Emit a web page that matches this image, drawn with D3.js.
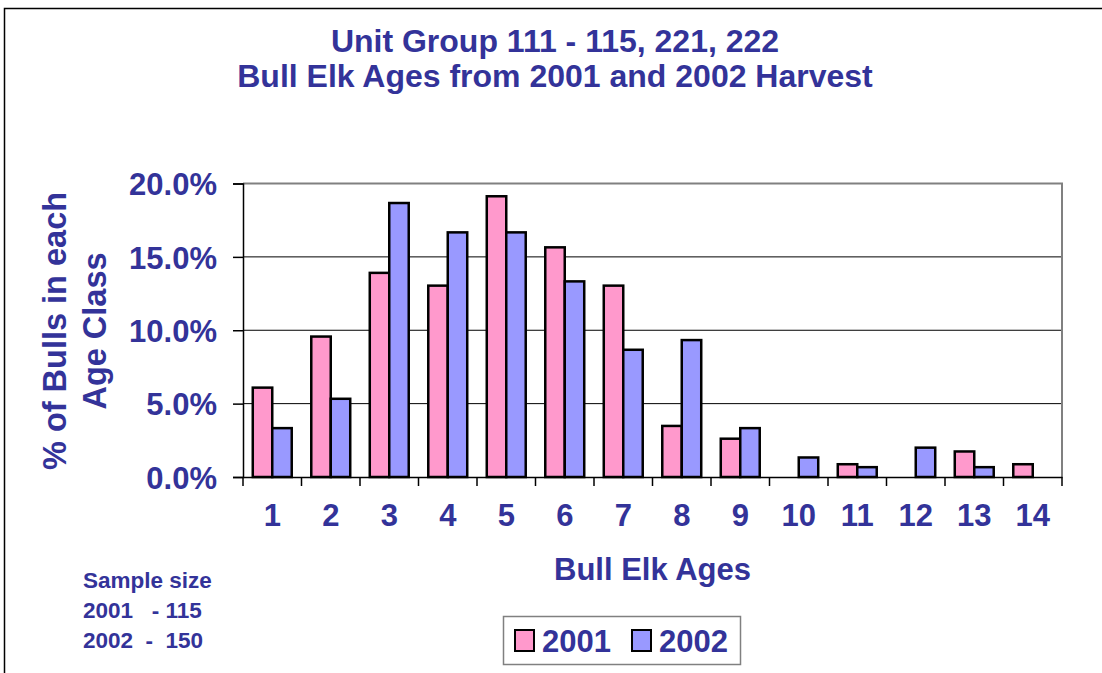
<!DOCTYPE html>
<html><head><meta charset="utf-8">
<script src="https://cdn.jsdelivr.net/npm/d3@7"></script>
<style>
html,body{margin:0;padding:0;background:#fff;}
svg{display:block;}
text{font-family:"Liberation Sans",Arial,sans-serif;font-weight:bold;fill:#333399;}
</style></head>
<body>
<script>
const ages = ["1","2","3","4","5","6","7","8","9","10","11","12","13","14"];
const seriesNames = ["2001","2002"];
const values2001 = [6.09,9.57,13.91,13.04,19.13,15.65,13.04,3.48,2.61,0,0.87,0,1.74,0.87];
const values2002 = [3.33,5.33,18.67,16.67,16.67,13.33,8.67,9.33,3.33,1.33,0.67,2.00,0.67,0];
const yTicks = [0,5,10,15,20];
const titleLines = ["Unit Group 111 - 115, 221, 222","Bull Elk Ages from 2001 and 2002 Harvest"];
const yTitleLines = ["% of Bulls in each","Age Class"];
const xTitle = "Bull Elk Ages";
const noteLines = ["Sample size","2001   - 115","2002  -  150"];
const colors = ["#FF99CC","#9999FF"];

const W = 1102, H = 673;
const svg = d3.select("body").append("svg").attr("width",W).attr("height",H);

// outer frame
svg.append("rect").attr("x",4.5).attr("y",8.5).attr("width",W+20).attr("height",H+20)
  .attr("fill","none").attr("stroke","#000").attr("stroke-width",1.5);

const L = 243, R = 1062, T = 183.5, B = 477;
const x = d3.scaleBand().domain(ages).range([L,R]).padding(0);
const xs = d3.scaleBand().domain(seriesNames).range([x.bandwidth()*0.167, x.bandwidth()*0.833]);
const y = d3.scaleLinear().domain([0,20]).range([B,T]);

// gridlines
svg.append("g").selectAll("line").data(yTicks.filter(d=>d>0 && d<20)).join("line")
  .attr("x1",L).attr("x2",R).attr("y1",d=>y(d)).attr("y2",d=>y(d))
  .attr("stroke","#000").attr("stroke-width",1);

// plot border top/right (gray)
svg.append("path").attr("d",`M${L},${y(20)}H${R}V${B}`).attr("fill","none")
  .attr("stroke","#808080").attr("stroke-width",2);

// bars
const data = ages.map((a,i)=>({age:a, vals:[values2001[i], values2002[i]]}));
const g = svg.append("g");
data.forEach(d=>{
  d.vals.forEach((v,j)=>{
    if(v<=0) return;
    g.append("rect")
      .attr("x", x(d.age)+xs(seriesNames[j]))
      .attr("y", y(v))
      .attr("width", xs.bandwidth())
      .attr("height", y(0)-y(v))
      .attr("fill", colors[j]).attr("stroke","#000").attr("stroke-width",2.5);
  });
});

// y axis
const yAxis = svg.append("g").attr("transform",`translate(${L},0)`)
  .call(d3.axisLeft(y).tickValues(yTicks).tickSize(10).tickPadding(16).tickFormat(d=>d.toFixed(1)+"%"));
yAxis.select(".domain").attr("stroke","#000").attr("stroke-width",1.5);
yAxis.selectAll(".tick line").attr("stroke","#000").attr("stroke-width",1.5);
yAxis.selectAll(".tick text").attr("font-size",31).attr("fill","#333399")
  .attr("font-family","Liberation Sans, Arial, sans-serif").attr("font-weight","bold").attr("dy","0.36em");

// x axis
const xAxis = svg.append("g").attr("transform",`translate(0,${B})`)
  .call(d3.axisBottom(x).tickSize(0).tickPadding(27));
xAxis.select(".domain").attr("stroke","#000").attr("stroke-width",1.5);
xAxis.selectAll(".tick text").attr("font-size",31).attr("fill","#333399")
  .attr("font-family","Liberation Sans, Arial, sans-serif").attr("font-weight","bold");
const bounds = ages.map(a=>x(a)).concat([x(ages[ages.length-1])+x.bandwidth()]);
svg.append("g").selectAll("line").data(bounds).join("line")
  .attr("x1",d=>d).attr("x2",d=>d).attr("y1",B).attr("y2",B+9)
  .attr("stroke","#000").attr("stroke-width",1.5);

// titles
svg.append("g").selectAll("text").data(titleLines).join("text")
  .attr("x",555).attr("y",(d,i)=>52+i*35).attr("text-anchor","middle")
  .attr("font-size",32).text(d=>d);

svg.append("text").attr("x",(L+R)/2).attr("y",580).attr("text-anchor","middle")
  .attr("font-size",31).text(xTitle);

svg.append("g").attr("transform","translate(0,331) rotate(-90)")
  .selectAll("text").data(yTitleLines).join("text")
  .attr("x",0).attr("y",(d,i)=>66+i*40).attr("text-anchor","middle")
  .attr("font-size",32.5).text(d=>d);

// note
svg.append("g").selectAll("text").data(noteLines).join("text")
  .attr("x",83).attr("y",(d,i)=>588+i*30).attr("font-size",22.5)
  .style("white-space","pre").attr("xml:space","preserve").text(d=>d);

// legend
const lg = svg.append("g");
lg.append("rect").attr("x",503.5).attr("y",616.5).attr("width",237).attr("height",48)
  .attr("fill","#fff").attr("stroke","#808080").attr("stroke-width",1.5);
const lx = [515, 632];
seriesNames.forEach((s,i)=>{
  lg.append("rect").attr("x",lx[i]).attr("y",630).attr("width",19).attr("height",21)
    .attr("fill",colors[i]).attr("stroke","#000").attr("stroke-width",2);
  lg.append("text").attr("x",lx[i]+27).attr("y",652).attr("font-size",31).text(s);
});
</script>
</body></html>
